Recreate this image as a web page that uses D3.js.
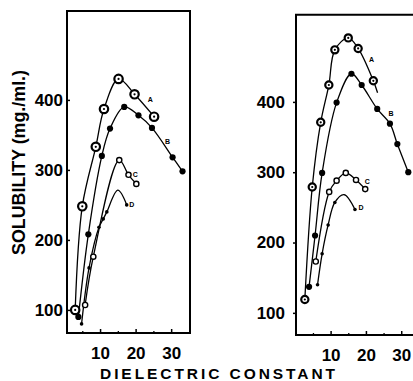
<!DOCTYPE html>
<html><head><meta charset="utf-8">
<script src="https://cdn.jsdelivr.net/npm/d3@7"></script>
<style>
html,body{margin:0;padding:0;background:#fff;}
svg{display:block;}
text{font-family:"Liberation Sans",Arial,Helvetica,sans-serif;font-weight:bold;fill:#000;}
</style></head>
<body>
<svg id="chart" width="413" height="381"></svg>
<script>
// ---- data (dielectric constant, solubility mg/ml) ----
const xTicks = [10, 20, 30];
const xMinorTicks = [5, 15, 25];
const yTicks = [100, 200, 300, 400];

// left panel
const leftA = [[3.0,100],[5.0,248],[8.8,333],[11.1,387],[15.2,430],[19.7,408],[25.2,376]];
const leftB = [[3.9,90],[6.7,208],[10.5,320],[12.8,359],[16.8,390],[20.8,378],[24.6,360],[30.4,318],[33.2,298]];
const leftC = [[5.8,107],[8.1,176],[15.4,314],[18.0,293],[20.2,280]];
const leftD = [[4.8,80],[6.9,160],[9.7,218],[10.9,230],[11.9,240],[17.5,250]];
const leftDPeak = [[15.0,271]];          // curve passes here, no marker

// right panel
const rightA = [[2.7,119],[4.8,279],[7.2,371],[9.5,424],[11.2,474],[15.0,491],[17.8,476],[22.1,430]];
const rightATail = [[23.3,413]];         // line continues, no marker
const rightB = [[3.9,137],[5.6,210],[7.6,299],[11.7,399],[15.9,440],[18.8,424],[23.2,390],[26.8,369],[28.9,340],[32.0,300]];
const rightC = [[5.8,173],[9.6,272],[11.7,288],[14.3,299],[17.2,289],[19.8,276]];
const rightD = [[6.3,140],[7.6,184],[9.3,225],[11.2,257],[16.9,247]];
const rightDPeak = [[13.8,268]];

const leftLabels  = [["A",24.1,401],["B",29.0,340],["C",19.9,294],["D",18.9,250]];
const rightLabels = [["A",21.6,460],["B",27.1,383],["C",20.4,287],["D",18.6,250]];

const svg = d3.select("#chart");

function panel(cfg){
  const x = d3.scaleLinear().domain(cfg.xd).range(cfg.xr);
  const y = d3.scaleLinear().domain(cfg.yd).range(cfg.yr);
  const g = svg.append("g");

  // frame
  const [x0,x1] = cfg.xr, [y0,y1] = cfg.yr;
  g.append("path")
    .attr("d", cfg.closed
      ? `M${x0},${y1}H${x1}V${y0}H${x0}Z`
      : `M${x1+10},${y1}H${x0}V${y0}H${x1+10}`)
    .attr("fill","none").attr("stroke","#000").attr("stroke-width",2);

  // x axis
  const xa = g.append("g").attr("transform",`translate(0,${y0})`)
    .call(d3.axisBottom(x).tickValues(xTicks).tickSizeInner(-4).tickSizeOuter(0).tickPadding(14).tickFormat(d3.format("d")));
  xa.select(".domain").remove();
  xa.selectAll("line").attr("stroke","#000").attr("stroke-width",1.5);
  xa.selectAll("text").attr("font-size",17).attr("font-family",null).attr("font-weight","bold");
  const xm = g.append("g").attr("transform",`translate(0,${y0})`)
    .call(d3.axisBottom(x).tickValues(xMinorTicks).tickSizeInner(-2).tickSizeOuter(0).tickFormat(""));
  xm.select(".domain").remove();
  xm.selectAll("line").attr("stroke","#000").attr("stroke-width",1.3);

  // y axis
  const ya = g.append("g").attr("transform",`translate(${x0},0)`)
    .call(d3.axisLeft(y).tickValues(yTicks).tickSizeInner(cfg.ytick).tickSizeOuter(0).tickPadding(cfg.ypad).tickFormat(d3.format("d")));
  ya.select(".domain").remove();
  ya.selectAll("line").attr("stroke","#000").attr("stroke-width",1.5);
  ya.selectAll("text").attr("font-size",17).attr("font-family",null).attr("font-weight","bold");

  const line = d3.line().x(d=>x(d[0])).y(d=>y(d[1])).curve(d3.curveCatmullRom.alpha(0.5));
  const byX = (a,b)=>a[0]-b[0];

  cfg.series.forEach(s=>{
    const pts = s.pts.concat(s.extra||[]).sort(byX);
    g.append("path").attr("d",line(pts)).attr("fill","none").attr("stroke","#000").attr("stroke-width",1.3);
  });
  cfg.series.forEach(s=>{
    const m = g.append("g");
    s.pts.forEach(p=>{
      const cx=x(p[0]), cy=y(p[1]);
      if(s.kind==="A"){
        m.append("circle").attr("cx",cx).attr("cy",cy).attr("r",cfg.aR).attr("fill","#fff").attr("stroke","#000").attr("stroke-width",2.2);
        m.append("circle").attr("cx",cx).attr("cy",cy).attr("r",1.1).attr("fill","#000");
      } else if(s.kind==="B"){
        m.append("circle").attr("cx",cx).attr("cy",cy).attr("r",3.1).attr("fill","#000");
      } else if(s.kind==="C"){
        m.append("circle").attr("cx",cx).attr("cy",cy).attr("r",2.6).attr("fill","#fff").attr("stroke","#000").attr("stroke-width",1.4);
      } else {
        m.append("circle").attr("cx",cx).attr("cy",cy).attr("r",1.8).attr("fill","#000");
      }
    });
  });
  cfg.labels.forEach(l=>{
    g.append("text").attr("x",x(l[1])).attr("y",y(l[2])).attr("dy","0.35em")
      .attr("text-anchor","middle").attr("font-size",7).text(l[0]);
  });
}

panel({
  xd:[0.7,35.3], xr:[67,190], yd:[67,527], yr:[333,11], closed:true,
  ytick:-3, ypad:4, aR:4.2,
  series:[
    {kind:"A", pts:leftA},
    {kind:"B", pts:leftB},
    {kind:"C", pts:leftC},
    {kind:"D", pts:leftD, extra:leftDPeak}
  ],
  labels:leftLabels
});
panel({
  xd:[0.2,35.6], xr:[296,421], yd:[68.5,524], yr:[335,14.7], closed:false,
  ytick:3, ypad:8, aR:3.6,
  series:[
    {kind:"A", pts:rightA, extra:rightATail},
    {kind:"B", pts:rightB},
    {kind:"C", pts:rightC},
    {kind:"D", pts:rightD, extra:rightDPeak}
  ],
  labels:rightLabels
});

// axis titles
svg.append("text").attr("x",217.5).attr("y",378.5).attr("text-anchor","middle")
  .attr("font-size",15.5).attr("textLength",235).attr("lengthAdjust","spacing")
  .text("DIELECTRIC CONSTANT");
svg.append("text").attr("transform","translate(25,162.5) rotate(-90)").attr("text-anchor","middle")
  .attr("font-size",18).attr("textLength",185).attr("lengthAdjust","spacingAndGlyphs")
  .text("SOLUBILITY (mg./ml.)");
</script>
</body></html>
